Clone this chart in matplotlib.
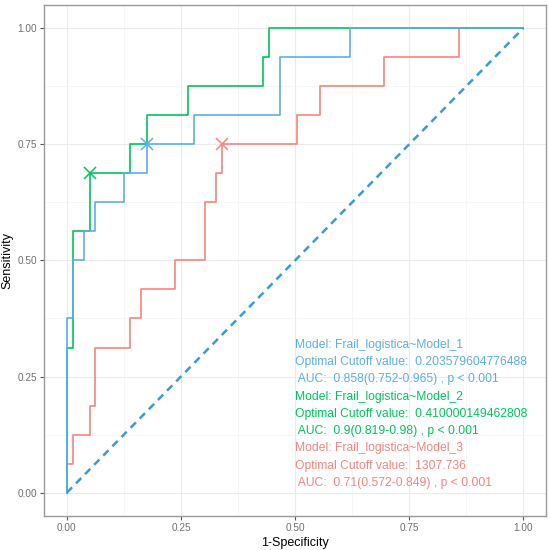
import numpy as np
import matplotlib
matplotlib.use("Agg")
import matplotlib.pyplot as plt

# ROC points (1-specificity, sensitivity)
fpr_m1 = [0, 0, 0.0125, 0.0375, 0.0625, 0.125, 0.175, 0.2775, 0.4675, 0.62, 1.0]
tpr_m1 = [0, 0.375, 0.5, 0.5625, 0.625, 0.6875, 0.75, 0.8125, 0.9375, 1.0, 1.0]

fpr_m2 = [0, 0, 0.0125, 0.05, 0.1375, 0.175, 0.265, 0.43, 0.4425, 1.0]
tpr_m2 = [0, 0.3125, 0.5625, 0.6875, 0.75, 0.8125, 0.875, 0.9375, 1.0, 1.0]

fpr_m3 = [0, 0, 0.0125, 0.05, 0.0625, 0.1375, 0.1625, 0.2375, 0.3025, 0.3275,
          0.34, 0.505, 0.555, 0.695, 0.86, 1.0]
tpr_m3 = [0, 0.0625, 0.125, 0.1875, 0.3125, 0.375, 0.4375, 0.5, 0.625, 0.6875,
          0.75, 0.8125, 0.875, 0.9375, 1.0, 1.0]

# optimal cutoff points
best_m1 = (0.175, 0.75)
best_m2 = (0.05, 0.6875)
best_m3 = (0.34, 0.75)

labels = [
    ("Model: Frail_logistica~Model_1", "m1"),
    ("Optimal Cutoff value:  0.203579604776488", "m1"),
    (" AUC:  0.858(0.752-0.965) , p < 0.001", "m1"),
    ("Model: Frail_logistica~Model_2", "m2"),
    ("Optimal Cutoff value:  0.410000149462808", "m2"),
    (" AUC:  0.9(0.819-0.98) , p < 0.001", "m2"),
    ("Model: Frail_logistica~Model_3", "m3"),
    ("Optimal Cutoff value:  1307.736", "m3"),
    (" AUC:  0.71(0.572-0.849) , p < 0.001", "m3"),
]

colors = {"m1": "#5DAEEA", "m2": "#00C55A", "m3": "#F8847C"}

plt.rcParams["font.family"] = ["Liberation Sans", "DejaVu Sans"]

fig = plt.figure(figsize=(5.5, 5.5), dpi=100)
ax = fig.add_axes([0.080, 0.062, 0.913, 0.929])

# grid like theme_bw
ax.set_xticks([0, 0.25, 0.5, 0.75, 1.0])
ax.set_yticks([0, 0.25, 0.5, 0.75, 1.0])
ax.set_xticks([0.125, 0.375, 0.625, 0.875], minor=True)
ax.set_yticks([0.125, 0.375, 0.625, 0.875], minor=True)
ax.grid(which="major", color="#EBEBEB", lw=0.8)
ax.grid(which="minor", color="#F3F3F3", lw=0.5)
ax.set_axisbelow(True)

ax.plot(fpr_m3, tpr_m3, drawstyle="steps-post", color=colors["m3"], lw=1.2)
ax.plot(fpr_m2, tpr_m2, drawstyle="steps-post", color=colors["m2"], lw=1.2)
ax.plot(fpr_m1, tpr_m1, drawstyle="steps-post", color=colors["m1"], lw=1.2)

ax.plot([0, 1], [0, 1], color="#3A9AD9", lw=1.8, ls=(0, (3, 2.2)))

for pt, key in [(best_m1, "m1"), (best_m2, "m2"), (best_m3, "m3")]:
    ax.plot(pt[0], pt[1], marker="x", color=colors[key], ms=8.5, mew=1.1)

for i, (txt, key) in enumerate(labels):
    ax.text(0.5, 0.318 - i * 0.0371, txt, color=colors[key], fontsize=8.7,
            ha="left", va="center")

ax.set_xlim(-0.05, 1.05)
ax.set_ylim(-0.05, 1.05)
ax.set_xticklabels(["0.00", "0.25", "0.50", "0.75", "1.00"])
ax.set_yticklabels(["0.00", "0.25", "0.50", "0.75", "1.00"])
ax.tick_params(which="major", length=3, color="#555555", labelsize=7.2,
               labelcolor="#6E6E6E", pad=2)
ax.tick_params(which="minor", length=0)
for s in ax.spines.values():
    s.set_color("#9A9A9A")
    s.set_linewidth(1.0)

ax.set_xlabel("1-Specificity", fontsize=9, labelpad=3)
ax.set_ylabel("Sensitivity", fontsize=9, labelpad=3)

fig.savefig("out.png", dpi=100)
